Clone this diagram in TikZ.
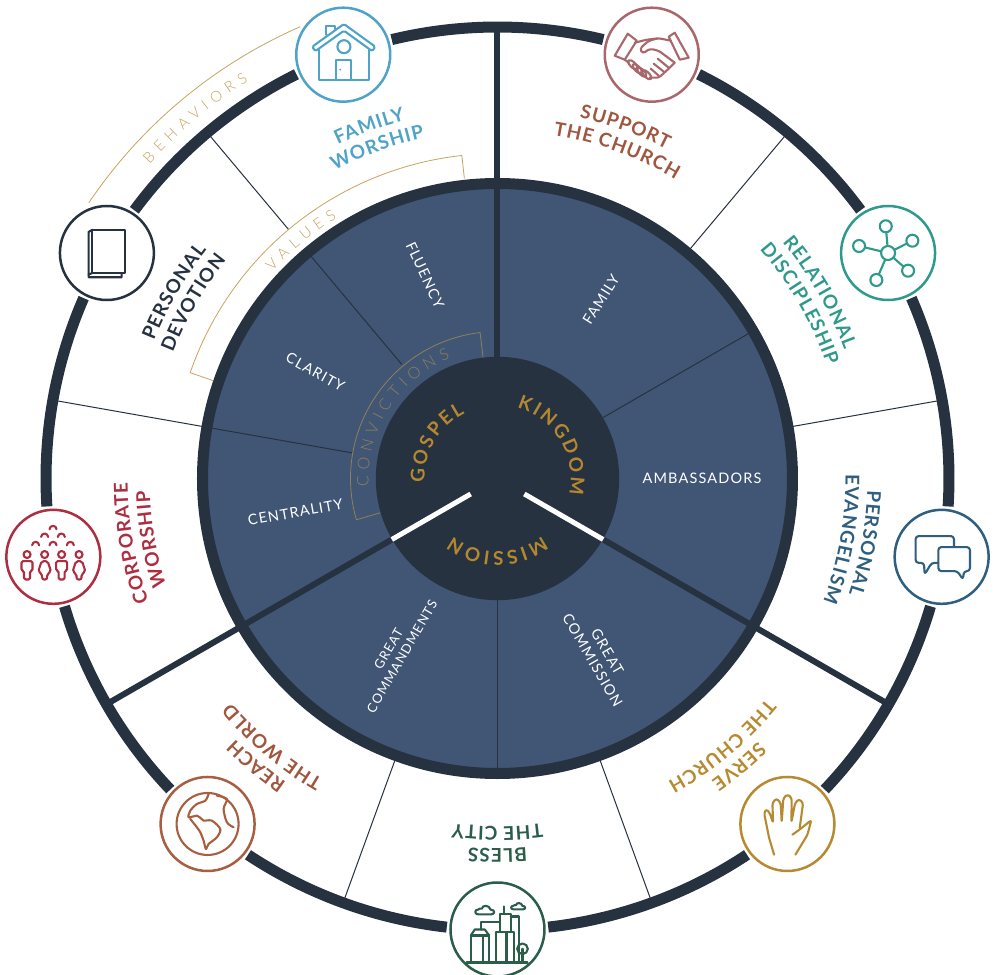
\documentclass[tikz,border=0pt]{standalone}
\usepackage{fontspec}
\setmainfont{Lato}
\newfontfamily\latoOuter[LetterSpace=5.5]{Lato}
\newfontfamily\latoWide[LetterSpace=40]{Lato Light}
\newfontfamily\latoConv[LetterSpace=34]{Lato Light}
\newfontfamily\latoIn[LetterSpace=8]{Lato}
\newfontfamily\latoCore[LetterSpace=14]{Lato}
\def\fOuter{\latoOuter\bfseries\fontsize{19}{19}\selectfont}
\def\fWide{\latoWide\fontsize{15}{15}\selectfont}
\def\fConv{\latoConv\fontsize{16}{16}\selectfont}
\def\fCore{\latoCore\bfseries\fontsize{19}{19}\selectfont}
\def\fIn{\latoIn\fontsize{14.5}{17}\selectfont}
\def\fInS{\latoIn\fontsize{13}{15.5}\selectfont}
\definecolor{dark}{HTML}{263240}
\definecolor{discblue}{HTML}{415675}
\definecolor{cHome}{HTML}{4FA3C7}
\definecolor{cShake}{HTML}{A8686B}
\definecolor{cSupport}{HTML}{A0563F}
\definecolor{cNet}{HTML}{2F9A8C}
\definecolor{cChat}{HTML}{2F5F80}
\definecolor{cHand}{HTML}{B68A30}
\definecolor{cCity}{HTML}{2A5E4B}
\definecolor{cGlobe}{HTML}{A85F40}
\definecolor{cPeople}{HTML}{AD2E40}
\definecolor{goldLight}{HTML}{C9A35F}
\definecolor{goldCore}{HTML}{B5882F}
\definecolor{goldMuted}{HTML}{8F8059}
\makeatletter
\newbox\arcBox
\newdimen\arcTot \newdimen\arcPre \newdimen\arcCh \newdimen\arcOff
\def\arcSpace{~}
\newcommand{\arcMeasure}[3]{\setbox\arcBox=\hbox{\pgfinterruptpicture #2\selectfont #3\endpgfinterruptpicture}\global#1=\wd\arcBox}
% mid angle, baseline radius, text (spaces as ~), colour, font
\newcommand{\arclabel}[5]{%
  \arcMeasure{\arcTot}{#5}{#3}%
  \def\arcPrefix{}%
  \@tfor\arcC:=#3\do{%
    \edef\arcPrefix{\unexpanded\expandafter{\arcPrefix}\unexpanded\expandafter{\arcC}}%
    \arcMeasure{\arcPre}{#5}{\arcPrefix}%
    \arcMeasure{\arcCh}{#5}{\arcC}%
    \ifx\arcC\arcSpace\else
      \arcOff=\dimexpr 0.5\arcTot-\arcPre+0.5\arcCh\relax
      \edef\arcNum{\strip@pt\arcOff}%
      \pgfmathsetmacro{\arcA}{#1+\arcNum/#2*57.29578}%
      \node[text=#4,font=#5,inner sep=0pt,anchor=base,rotate=\arcA-90] at (\arcA:#2) {\arcC};%
    \fi
  }%
}
\makeatother
\newcommand{\spoke}[4]{\coordinate (sp#1a) at (#1:#2);\coordinate (sp#1b) at (#1:#3);\draw[#4] (sp#1a) -- (sp#1b);}
\newcommand{\ringpart}[2]{\draw[ringline] ({#1}:451.5) arc[start angle={#1},end angle={#2},radius=451.5pt];}
\newcommand{\cloudicon}[3]{\draw[shift={(#1,#2)},scale=#3] (-7,-4) -- (7,-4) .. controls (11,-4) and (11,1) .. (6,1) .. controls (5,6) and (-3,6) .. (-3,2) .. controls (-5,3) and (-6,1) .. (-7,1) .. controls (-11,1) and (-11,-4) .. (-7,-4);}
\tikzset{
  ringline/.style={dark,line width=11pt},
  thickspoke/.style={dark,line width=6pt},
  thinspoke/.style={dark,line width=1pt},
  bracket/.style={goldLight,line width=0.8pt},
  bracketin/.style={goldMuted,line width=0.8pt},
  iconcirc/.style={circle,fill=white,draw=#1,line width=2.5pt,minimum size=94pt,inner sep=0pt},
  iconline/.style={#1,line width=2.1pt,line join=round,line cap=round},
  disctext/.style={text=white,font=\fIn,align=center,inner sep=0pt},
}
\begin{document}
\begin{tikzpicture}[x=1pt,y=1pt]
\useasboundingbox[fill=white] (-497.5,-496.5) rectangle (496.5,478.5);
% outer ring segments
\ringpart{103.55}{76.45}
\ringpart{63.55}{36.45}
\ringpart{23.55}{-3.55}
\ringpart{-16.45}{-43.55}
\ringpart{-56.45}{-83.55}
\ringpart{-96.45}{-123.55}
\ringpart{-136.45}{-163.55}
\ringpart{-176.45}{-203.55}
\ringpart{143.55}{116.45}
% outer spokes
\spoke{90}{290}{451}{thickspoke}
\spoke{-30}{290}{451}{thickspoke}
\spoke{210}{290}{451}{thickspoke}
\coordinate (o50a) at (50:296);\coordinate (o50b) at (50:447);\draw[thinspoke] (o50a)--(o50b);
\coordinate (o10a) at (10:296);\coordinate (o10b) at (10:447);\draw[thinspoke] (o10a)--(o10b);
\coordinate (om70a) at (-70:296);\coordinate (om70b) at (-70:447);\draw[thinspoke] (om70a)--(om70b);
\coordinate (om110a) at (-110:296);\coordinate (om110b) at (-110:447);\draw[thinspoke] (om110a)--(om110b);
\coordinate (o170a) at (170:296);\coordinate (o170b) at (170:447);\draw[thinspoke] (o170a)--(o170b);
\coordinate (o130a) at (130:325);\coordinate (o130b) at (130:447);\draw[thinspoke] (o130a)--(o130b);
% disc
\draw[fill=discblue,draw=dark,line width=11pt] (0,0) circle[radius=295pt];
\spoke{90}{120}{295}{thickspoke}
\spoke{-30}{120}{295}{thickspoke}
\spoke{210}{120}{295}{thickspoke}
\coordinate (i130a) at (130:149);\coordinate (i130b) at (130:292);\draw[thinspoke] (i130a)--(i130b);
\coordinate (i170a) at (170:148);\coordinate (i170b) at (170:292);\draw[thinspoke] (i170a)--(i170b);
\coordinate (i30a) at (30:120);\coordinate (i30b) at (30:292);\draw[thinspoke] (i30a)--(i30b);
\coordinate (im90a) at (-90:120);\coordinate (im90b) at (-90:292);\draw[thinspoke] (im90a)--(im90b);
% brackets
\draw[bracket] (113.6:493) arc[start angle=113.6,end angle=146,radius=493pt];
\draw[bracket] (96.3:302) -- (96.3:325) arc[start angle=96.3,end angle=161,radius=325pt] -- (161:301);
\draw[bracketin] (96.8:122) -- (96.8:147) arc[start angle=96.8,end angle=196.3,radius=147pt] -- (196.3:122);
\arclabel{130}{469}{BEHAVIORS}{goldLight}{\fWide}
\arclabel{129.5}{306}{VALUES}{goldLight}{\fWide}
\arclabel{147.5}{129}{CONVICTIONS}{goldMuted}{\fConv}
% core
\fill[dark] (0,0) circle[radius=121.7pt];
\coordinate (wa) at (210:31);\coordinate (wb) at (210:122);\draw[white,line width=5pt] (wa) -- (wb);
\coordinate (wc) at (-30:31);\coordinate (wd) at (-30:122);\draw[white,line width=5pt] (wc) -- (wd);
\arclabel{150}{73}{GOSPEL}{goldCore}{\fCore}
\arclabel{31}{73}{KINGDOM}{goldCore}{\fCore}
\arclabel{-90}{73}{MISSION}{goldCore}{\fCore}
% disc labels
\node[disctext,rotate=58] (tFamily) at (60:207) {FAMILY};
\node[disctext] (tAmb) at (0:204.5) {AMBASSADORS};
\node[disctext,rotate=-60] (tComm) at (-60:205) {GREAT\\COMMISSION};
\node[disctext,rotate=60,font=\fInS] (tCmd) at (-120.4:202) {GREAT\\COMMANDMENTS};
\node[disctext,rotate=10] (tCent) at (189.5:205) {CENTRALITY};
\node[disctext,rotate=-29] (tClar) at (149.7:211) {CLARITY};
\node[disctext,rotate=-65] (tFlu) at (109.6:216) {FLUENCY};
% outer labels
\arclabel{110}{370}{FAMILY}{cHome}{\fOuter}
\arclabel{110}{348}{WORSHIP}{cHome}{\fOuter}
\arclabel{70}{370}{SUPPORT}{cSupport}{\fOuter}
\arclabel{70}{348}{THE~CHURCH}{cSupport}{\fOuter}
\arclabel{30}{370}{RELATIONAL}{cNet}{\fOuter}
\arclabel{30}{348}{DISCIPLESHIP}{cNet}{\fOuter}
\arclabel{-10}{370}{PERSONAL}{cChat}{\fOuter}
\arclabel{-10}{348}{EVANGELISM}{cChat}{\fOuter}
\arclabel{-50}{370}{SERVE}{cHand}{\fOuter}
\arclabel{-50}{348}{THE~CHURCH}{cHand}{\fOuter}
\arclabel{-90}{370}{BLESS}{cCity}{\fOuter}
\arclabel{-90}{348}{THE~CITY}{cCity}{\fOuter}
\arclabel{-130}{370}{REACH}{cSupport}{\fOuter}
\arclabel{-130}{348}{THE~WORLD}{cSupport}{\fOuter}
\arclabel{-170}{370}{CORPORATE}{cPeople}{\fOuter}
\arclabel{-170}{348}{WORSHIP}{cPeople}{\fOuter}
\arclabel{150}{370}{PERSONAL}{dark}{\fOuter}
\arclabel{150}{348}{DEVOTION}{dark}{\fOuter}
% icon circles
\node[iconcirc=cHome] (iHome) at (110:451) {};
\node[iconcirc=cShake] (iShake) at (70:451) {};
\node[iconcirc=cNet] (iNet) at (30:451) {};
\node[iconcirc=cChat] (iChat) at (-10:451) {};
\node[iconcirc=cHand] (iHand) at (-50:451) {};
\node[iconcirc=cCity] (iCity) at (-90:451) {};
\node[iconcirc=cGlobe] (iGlobe) at (-130:451) {};
\node[iconcirc=cPeople] (iPeople) at (-170:451) {};
\node[iconcirc=dark] (iBook) at (150:451) {};
% home
\begin{scope}[shift={(iHome.center)},iconline=cHome]
\draw[rounded corners=1.5pt] (-31,8) -- (0.7,30.7) -- (32,8) -- (29,3.5) -- (0.7,24) -- (-28,3.5) -- cycle;
\draw (-17.5,20) -- (-17.5,29) -- (-8,29) -- (-8,25.5);
\draw (-24,5.5) -- (-24,-25) -- (26,-25) -- (26,5.5);
\draw (-7,-25) -- (-7,-5) -- (8,-5) -- (8,-25);
\draw (0.7,8) circle[radius=6.5pt];
\fill (-3,-15) circle[radius=1pt];
\end{scope}
% book
\begin{scope}[shift={(iBook.center)},iconline=dark]
\draw (-14.5,23.3) rectangle (18.5,-20);
\draw (-14.5,23.3) -- (-18.3,21) -- (-18.3,-24.3) -- (14.7,-24.3) -- (14.7,-20);
\draw (-18.3,-21.5) -- (-14.5,-20);
\end{scope}
% handshake
\begin{scope}[shift={(iShake.center)},iconline=cShake]
\draw (-24,21) -- (-37,-1) -- (-27,-5) -- (-15,14) -- cycle;
\draw (23,22) -- (37,-3) -- (28,-5) -- (17,18) -- cycle;
\draw[rounded corners=3pt] (-17,12) -- (-5,15) -- (7,16.5) -- (19,14);
\draw[rounded corners=3pt] (5,16) -- (-3,14) -- (-12,6) -- (-9,1) -- (-2,6) -- (7,4) -- (23,-8);
\draw[rounded corners=2.5pt] (23,-8) -- (17,-14) -- (7,-23) -- (-2,-23);
\draw (-27,-5) -- (-23,-8);
\foreach \px/\py in {-19/-10,-14.5/-14,-10/-17.5,-5/-20}{\draw[rotate around={-45:(\px,\py)}] (\px,\py) ellipse[x radius=6pt,y radius=2.6pt];}
\draw (6,-4) -- (17,-13);
\draw (2,-9) -- (12,-17);
\draw (-1,-14) -- (7,-21);
\end{scope}
% network
\begin{scope}[shift={(iNet.center)},iconline=cNet]
\foreach \px/\py in {-2.3/26.7,24.3/12.3,20/-17.7,-11.7/-27,-29/7}{
  \draw (0,0) -- (\px,\py);
  \filldraw[fill=white] (\px,\py) circle[radius=6pt];
}
\filldraw[fill=white] (0,0) circle[radius=7pt];
\end{scope}
% chat
\begin{scope}[shift={(iChat.center)},iconline=cChat]
\draw[rounded corners=3pt] (-26,20.7) -- (12.3,20.7) -- (12.3,-6) -- (-10,-6) -- (-17,-17.7) -- (-17.7,-6) -- (-26,-6) -- cycle;
\filldraw[fill=white,rounded corners=3pt] (-3.3,9.7) -- (28.3,9.7) -- (28.3,-14.3) -- (22.3,-14.3) -- (21.3,-22.7) -- (15.7,-14.3) -- (-3.3,-14.3) -- cycle;
\end{scope}
% hand
\begin{scope}[shift={(iHand.center)},iconline=cHand]
\draw[rounded corners=2.5pt] (-13.3,-30.7) -- (-18.3,-14) -- (-23.3,11) -- (-21,15) -- (-17.7,11) -- (-14.3,1) -- (-15,21) -- (-11,25.7) -- (-6.7,21) -- (-5.7,1.7) -- (-4,26) -- (0.3,29.7) -- (4.3,26) -- (4,1.7) -- (7.7,21) -- (11.7,25) -- (15.7,21) -- (12.3,-4);
\draw[rounded corners=2.5pt] (5,-10.7) -- (13,-5) -- (24,4) -- (20,-11) -- (8,-30.7);
\end{scope}
% city
\begin{scope}[shift={(iCity.center)},iconline=cCity]
\draw (-31,-33) -- (30,-33);
\draw (-26.7,-33) -- (-26.7,-6) -- (-8.3,-6) -- (-8.3,-33);
\draw (-26.7,-6) -- (-22.7,0) -- (-12.7,0) -- (-8.3,-6);
\draw (-14.3,-33) -- (-14.3,-6);
\draw (-1.7,-33) -- (-1.7,-2.7) -- (16.7,-2.7) -- (16.7,-33);
\draw (2.3,-2.7) -- (2.3,15.7) -- (13.3,15.7) -- (13.3,-2.7);
\draw (6.3,15.7) -- (6.3,23);
\draw (9,-33) -- (9,-2.7);
\draw (-16.7,0) -- (-16.7,7.3) -- (2.3,7.3);
\draw (13.3,13) -- (21.7,13) -- (21.7,-33);
\draw (25,-19.3) circle[radius=5.3pt];
\draw (25,-19.3) -- (25,-33);
\cloudicon{-12.7}{19}{0.95}
\cloudicon{20.7}{23}{0.7}
\end{scope}
% globe
\begin{scope}[shift={(iGlobe.center)},iconline=cGlobe]
\draw (0,0) circle[radius=31pt];
\draw plot[smooth,tension=0.5] coordinates {(1,30) (-2.3,23.3) (-10.7,20) (-17.3,13.3) (-19,6.7) (-10.7,8.3) (-6,5) (-4,3.3) (4.3,3.3) (12.7,-5) (9.3,-13.3) (1,-20) (-1.7,-25) (-4,-16.7) (-7.3,-8.3) (-10.7,-3.3) (-17.3,5)};
\draw plot[smooth,tension=0.5] coordinates {(9.3,28.3) (19.3,25) (16,15) (19.3,1.7) (26,-3.3)};
\end{scope}
% people
\begin{scope}[shift={(iPeople.center)},iconline=cPeople]
\foreach \px in {-26.3,8.3}{
  \draw (\px,2.3) circle[radius=3.5pt];
  \draw[rounded corners=1.5pt] (\px-5.5,-4.3) -- (\px+5.5,-4.3) -- (\px+5.5,-14) -- (\px+3,-14) -- (\px+3,-22.7) -- (\px-3,-22.7) -- (\px-3,-14) -- (\px-5.5,-14) -- cycle;
}
\foreach \px in {-8.7,25.7}{
  \draw (\px,2.3) circle[radius=3.5pt];
  \draw[rounded corners=2pt] (\px-3,-4.3) -- (\px+3,-4.3) -- (\px+6.5,-15) -- (\px+2.5,-17) -- (\px+2.5,-22.7) -- (\px-2.5,-22.7) -- (\px-2.5,-17) -- (\px-6.5,-15) -- cycle;
}
\foreach \px/\py in {-0.3/29,-8.7/21.3,8/21.3,-17.7/13,-0.3/13,17/13}{
  \draw (\px+3.5,\py-1.5) arc[start angle=0,end angle=180,radius=3.5pt];
}
\end{scope}
\end{tikzpicture}
\end{document}
